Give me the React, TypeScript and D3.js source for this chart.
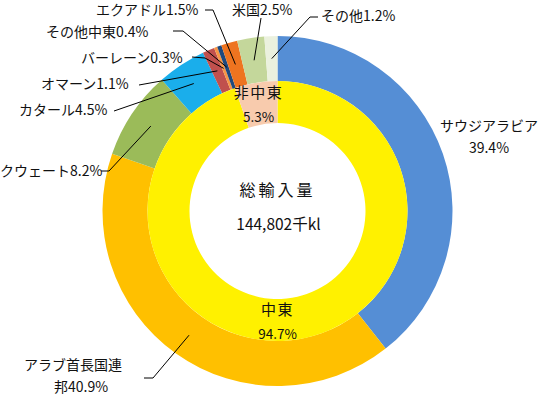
import React from "react";
import * as d3 from "d3";

const outerNames = ["サウジアラビア", "アラブ首長国連邦", "クウェート", "カタール", "オマーン", "バーレーン", "その他中東", "エクアドル", "米国", "その他"];
const outerValues = [39.4, 40.9, 8.2, 4.5, 1.1, 0.3, 0.4, 1.5, 2.5, 1.2];
const outerColors = ["#558ED5", "#FFC000", "#9BBB59", "#1AAEEB", "#C0504D", "#F79646", "#1F497D", "#EE7420", "#C4D79B", "#EBF1DE"];

const innerNames = ["中東", "非中東"];
const innerValues = [94.7, 5.3];
const innerColors = ["#FFF100", "#F8CBAD"];

const totalTitle = "総輸入量";
const totalValue = "144,802千kl";

type Lay = { lines: string[]; x: number; y: number; anchor: string; x2?: number; path?: [number, number][] };
const outerLayout: Lay[] = [
  { lines: ["サウジアラビア", "39.4%"], x: 489, y: 131, anchor: "middle" },
  { lines: ["アラブ首長国連", "邦40.9%"], x: 24, y: 370, anchor: "start", x2: 54, path: [[144, 378], [153, 378]] },
  { lines: ["クウェート8.2%"], x: 0, y: 176, anchor: "start", path: [[101, 171], [109, 171]] },
  { lines: ["カタール4.5%"], x: 19, y: 115, anchor: "start", path: [[114, 111]] },
  { lines: ["オマーン1.1%"], x: 41, y: 89, anchor: "start", path: [[139, 85]] },
  { lines: ["バーレーン0.3%"], x: 81, y: 63, anchor: "start", path: [[192, 57], [205, 58]] },
  { lines: ["その他中東0.4%"], x: 46, y: 37, anchor: "start", path: [[173, 31], [183, 31]] },
  { lines: ["エクアドル1.5%"], x: 96, y: 15, anchor: "start", path: [[205, 10], [213, 10]] },
  { lines: ["米国2.5%"], x: 232, y: 15, anchor: "start", path: [[261, 18]] },
  { lines: ["その他1.2%"], x: 321, y: 21, anchor: "start", path: [[318, 17], [310, 17]] },
];

const W = 542, H = 396;
const cx = 277.5, cy = 211;
const rOuter = 175, rMid = 130, rHole = 88;

export default function App() {
  const pie = d3.pie<number>().sort(null).value((d) => d);
  const outerArcs = pie(outerValues);
  const innerArcs = pie(innerValues);
  const outerArc = d3.arc<d3.PieArcDatum<number>>().innerRadius(rMid).outerRadius(rOuter);
  const innerArc = d3.arc<d3.PieArcDatum<number>>().innerRadius(rHole).outerRadius(rMid);
  const font = "'Noto Sans CJK JP', 'Noto Sans', sans-serif";
  const fs = 14;
  return (
    <svg width={W} height={H} style={{ position: "absolute", left: 0, top: 0 }} fontFamily={font}>
      <rect width={W} height={H} fill="#fff" />
      <g transform={`translate(${cx},${cy})`}>
        {outerArcs.map((a, i) => (
          <path key={"o" + i} d={outerArc(a) || ""} fill={outerColors[i]} />
        ))}
        {innerArcs.map((a, i) => (
          <path key={"i" + i} d={innerArc(a) || ""} fill={innerColors[i]} />
        ))}
      </g>
      {outerArcs.map((a, i) => {
        const lay = outerLayout[i];
        if (!lay.path) return null;
        const c = outerArc.centroid(a);
        const pts: [number, number][] = [...lay.path, [c[0] + cx, c[1] + cy]];
        return (
          <polyline key={"l" + i} points={pts.map((p) => p.join(",")).join(" ")} fill="none" stroke="#000" strokeWidth={1} />
        );
      })}
      {outerLayout.map((lay, i) => (
        <text key={"t" + i} x={lay.x} y={lay.y} textAnchor={lay.anchor} fontSize={fs} fill="#111">
          {lay.lines.map((ln, j) => (
            <tspan key={j} x={j === 0 ? lay.x : lay.x2 ?? lay.x} dy={j === 0 ? 0 : 22}>
              {ln}
            </tspan>
          ))}
        </text>
      ))}
      {innerArcs.map((a, i) => {
        const pos = i === 0 ? [cx, cy + 104] : [cx - 19, cy - 113];
        return (
          <text key={"it" + i} x={pos[0]} y={pos[1]} textAnchor="middle" fontSize={15} fill="#111">
            <tspan x={pos[0]} dy={0} letterSpacing={1.5}>{innerNames[i]}</tspan>
            <tspan x={pos[0]} dy={24} fontSize={13.5}>{innerValues[i].toFixed(1) + "%"}</tspan>
          </text>
        );
      })}
      <text x={cx} y={cy - 15} textAnchor="middle" fontSize={16} letterSpacing={3} fill="#111">{totalTitle}</text>
      <text x={cx + 1} y={cy + 19} textAnchor="middle" fontSize={15.5} fill="#111">{totalValue}</text>
    </svg>
  );
}
